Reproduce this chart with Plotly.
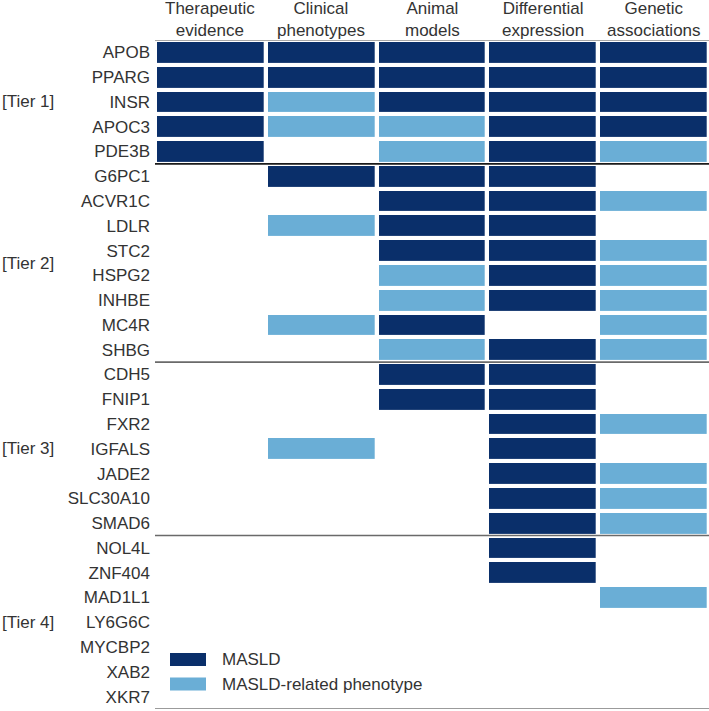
import plotly.graph_objects as go

# evidence columns
columns = ["Therapeutic<br>evidence", "Clinical<br>phenotypes", "Animal<br>models",
           "Differential<br>expression", "Genetic<br>associations"]

tiers = ["[Tier 1]", "[Tier 2]", "[Tier 3]", "[Tier 4]"]
tier1 = ["APOB", "PPARG", "INSR", "APOC3", "PDE3B"]
tier2 = ["G6PC1", "ACVR1C", "LDLR", "STC2", "HSPG2", "INHBE", "MC4R", "SHBG"]
tier3 = ["CDH5", "FNIP1", "FXR2", "IGFALS", "JADE2", "SLC30A10", "SMAD6"]
tier4 = ["NOL4L", "ZNF404", "MAD1L1", "LY6G6C", "MYCBP2", "XAB2", "XKR7"]

# 2 = MASLD, 1 = MASLD-related phenotype, 0 = none
evidence1 = [[2, 2, 2, 2, 2], [2, 2, 2, 2, 2], [2, 1, 2, 2, 2], [2, 1, 1, 2, 2], [2, 0, 1, 2, 1]]
evidence2 = [[0, 2, 2, 2, 0], [0, 0, 2, 2, 1], [0, 1, 2, 2, 0], [0, 0, 2, 2, 1],
             [0, 0, 1, 2, 1], [0, 0, 1, 2, 1], [0, 1, 2, 0, 1], [0, 0, 1, 2, 1]]
evidence3 = [[0, 0, 2, 2, 0], [0, 0, 2, 2, 0], [0, 0, 0, 2, 1], [0, 1, 0, 2, 0],
             [0, 0, 0, 2, 1], [0, 0, 0, 2, 1], [0, 0, 0, 2, 1]]
evidence4 = [[0, 0, 0, 2, 0], [0, 0, 0, 2, 0], [0, 0, 0, 0, 1], [0, 0, 0, 0, 0],
             [0, 0, 0, 0, 0], [0, 0, 0, 0, 0], [0, 0, 0, 0, 0]]

legend_names = ["MASLD", "MASLD-related phenotype"]

DARK = "#0a2f6a"
LIGHT = "#6aaed6"
TXT = "#333333"
FONT = "Liberation Sans, Arial, sans-serif"

genes = tier1 + tier2 + tier3 + tier4
z = evidence1 + evidence2 + evidence3 + evidence4
z = [[v if v > 0 else None for v in row] for row in z]
ny = len(genes)
nx = len(columns)

W, H = 709, 711
ml, mr, mt, mb = 155, 0, 40, 2
pw, ph = W - ml - mr, H - mt - mb

fig = go.Figure()
fig.add_trace(go.Heatmap(
    z=z, x=list(range(nx)), y=list(range(ny)),
    zmin=0, zmax=2,
    colorscale=[[0, "white"], [0.5, LIGHT], [1, DARK]],
    showscale=False, xgap=4.3, ygap=4.1, hoverinfo="skip",
))

shapes = []
# header line, tier separators and bottom line
bounds = [-0.5]
for t in [tier1, tier2, tier3, tier4]:
    bounds.append(bounds[-1] + len(t))
line_cols = ["#8a8a8a", "#1a1a1a", "#6a6a6a", "#6a6a6a", "#7a7a7a"]
for b, c in zip(bounds, line_cols):
    shapes.append(dict(type="line", xref="paper", yref="y", x0=0, x1=1, y0=b, y1=b,
                       line=dict(color=c, width=1.6)))

annotations = []
# column headers
for i, col in enumerate(columns):
    annotations.append(dict(text=col, xref="x", yref="paper", x=i, y=1, yshift=21,
                            xanchor="center", yanchor="middle", showarrow=False,
                            font=dict(size=17, color=TXT, family=FONT)))

# tier labels at the middle of each tier
for name, lo, hi in zip(tiers, bounds[:-1], bounds[1:]):
    mid = (lo + hi) / 2
    annotations.append(dict(text=name, xref="paper", yref="y", x=-ml / pw, y=mid,
                            xanchor="left", yanchor="middle", showarrow=False,
                            font=dict(size=17, color=TXT, family=FONT)))

# legend
def px(xp):
    return (xp - ml) / pw

def py(yp):
    return 1 - (yp - mt) / ph

for name, col, yc in zip(legend_names, [DARK, LIGHT], [659.5, 684]):
    shapes.append(dict(type="rect", xref="paper", yref="paper",
                       x0=px(170), x1=px(206), y0=py(yc - 6.5), y1=py(yc + 6.5),
                       fillcolor=col, line=dict(width=0)))
    annotations.append(dict(text=name, xref="paper", yref="paper", x=px(220), y=py(yc),
                            xanchor="left", yanchor="middle", showarrow=False,
                            font=dict(size=17, color=TXT, family=FONT)))

fig.update_layout(
    width=W, height=H,
    margin=dict(l=ml, r=mr, t=mt, b=mb),
    paper_bgcolor="white", plot_bgcolor="white",
    font=dict(family=FONT, size=17, color=TXT),
    shapes=shapes, annotations=annotations,
    xaxis=dict(side="top", range=[-0.5, nx - 0.5], showticklabels=False,
               showgrid=False, zeroline=False, showline=False, ticks="",
               fixedrange=True),
    yaxis=dict(range=[ny - 0.5, -0.5], tickvals=list(range(ny)), ticktext=genes,
               showgrid=False, zeroline=False, showline=False, ticks="", ticklabelstandoff=4,
               fixedrange=True),
)

fig.write_html("out.html", config={"displayModeBar": False},
               post_script="document.body.style.margin='0px';")
